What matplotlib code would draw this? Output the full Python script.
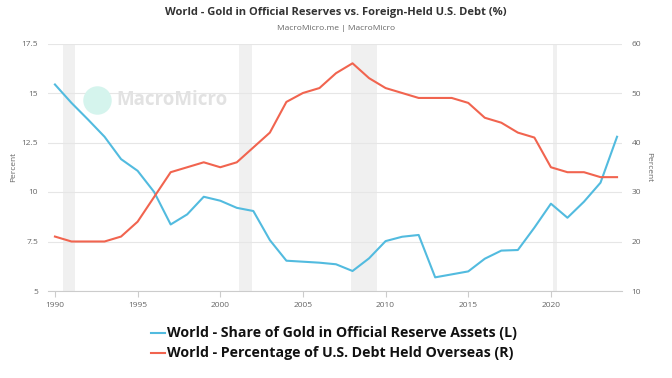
import matplotlib.pyplot as plt

# data
years = list(range(1990, 2025))
gold_share = [15.43, 14.5, 13.66, 12.79, 11.66, 11.07, 10.0, 8.36, 8.87, 9.76,
              9.56, 9.2, 9.04, 7.57, 6.53, 6.48, 6.43, 6.35, 6.01, 6.65,
              7.52, 7.74, 7.83, 5.69, 5.84, 5.99, 6.63, 7.04, 7.07, 8.2,
              9.41, 8.7, 9.51, 10.47, 12.79]
debt_overseas = [21, 20, 20, 20, 21, 24, 29, 34, 35, 36,
                 35, 36, 39, 42, 48.2, 50, 51, 54, 56, 53,
                 51, 50, 49, 49, 49, 48, 45, 44, 42, 41,
                 35, 34, 34, 33, 33]
recessions = [(1990.5, 1991.2), (2001.15, 2001.9), (2007.9, 2009.5), (2020.1, 2020.35)]
xticks = [1990, 1995, 2000, 2005, 2010, 2015, 2020]
lticks = [5, 7.5, 10, 12.5, 15, 17.5]
rticks = [10, 20, 30, 40, 50, 60]

blue = '#52bbdf'
red = '#f1644f'
plt.rcParams['font.family'] = ['Open Sans', 'DejaVu Sans']

fig = plt.figure(figsize=(6.72, 3.78), dpi=100)
ax = fig.add_axes([48 / 672, 1 - 291 / 378, (622 - 48) / 672, (291 - 43.5) / 378])
ax2 = ax.twinx()

for a, b in recessions:
    ax.axvspan(a, b, color='#f0f0f0', lw=0, zorder=0)

ax.plot(years, gold_share, color=blue, lw=1.5, zorder=3)
ax2.plot(years, debt_overseas, color=red, lw=1.5, zorder=3)

ax.set_xlim(1989.58, 2024.3)
ax.set_ylim(5, 17.5)
ax2.set_ylim(10, 60)
ax.set_yticks(lticks)
ax.set_yticklabels(['5', '7.5', '10', '12.5', '15', '17.5'])
ax2.set_yticks(rticks)
ax.set_xticks(xticks)
ax.grid(axis='y', color='#e6e6e6', lw=0.8)
ax.set_axisbelow(True)

for a in (ax, ax2):
    for s in a.spines.values():
        s.set_visible(False)
ax.spines['bottom'].set_visible(True)
ax.spines['bottom'].set_color('#cccccc')
ax.tick_params(axis='x', colors='#cccccc', labelcolor='#666666', labelsize=6, length=4,
               width=0.8, pad=4)
ax.tick_params(axis='y', length=0, labelcolor='#666666', labelsize=6, pad=7)
ax2.tick_params(axis='y', length=0, labelcolor='#666666', labelsize=6, pad=7)
ax.set_ylabel('Percent', fontsize=6, color='#666666', labelpad=3)
ax2.set_ylabel('Percent', fontsize=6, color='#666666', rotation=-90, labelpad=8)

# watermark
ax.scatter([0.085], [0.77], s=420, color='#d5f4ed', transform=ax.transAxes, zorder=1,
           clip_on=False, lw=0)
ax.text(0.119, 0.77, 'MacroMicro', transform=ax.transAxes, fontsize=13.5, fontweight='bold',
        color='#e2e2e2', va='center', ha='left', zorder=1)

fig.text(0.5, 1 - 12 / 378, 'World - Gold in Official Reserves vs. Foreign-Held U.S. Debt (%)',
         ha='center', va='center', fontsize=8, fontweight='bold', color='#333333')
fig.text(0.5, 1 - 28 / 378, 'MacroMicro.me | MacroMicro', ha='center', va='center',
         fontsize=6, color='#666666')

# legend
fig.lines.append(plt.Line2D([151 / 672, 165 / 672], [1 - 333 / 378] * 2, color=blue, lw=1.5,
                            transform=fig.transFigure))
fig.lines.append(plt.Line2D([151 / 672, 165 / 672], [1 - 353 / 378] * 2, color=red, lw=1.5,
                            transform=fig.transFigure))
fig.text(167 / 672, 1 - 333 / 378, 'World - Share of Gold in Official Reserve Assets (L)',
         ha='left', va='center', fontsize=10.2, fontweight='bold', color='#111111')
fig.text(167 / 672, 1 - 353 / 378, 'World - Percentage of U.S. Debt Held Overseas (R)',
         ha='left', va='center', fontsize=10.2, fontweight='bold', color='#111111')

fig.savefig('out.png', dpi=100)
